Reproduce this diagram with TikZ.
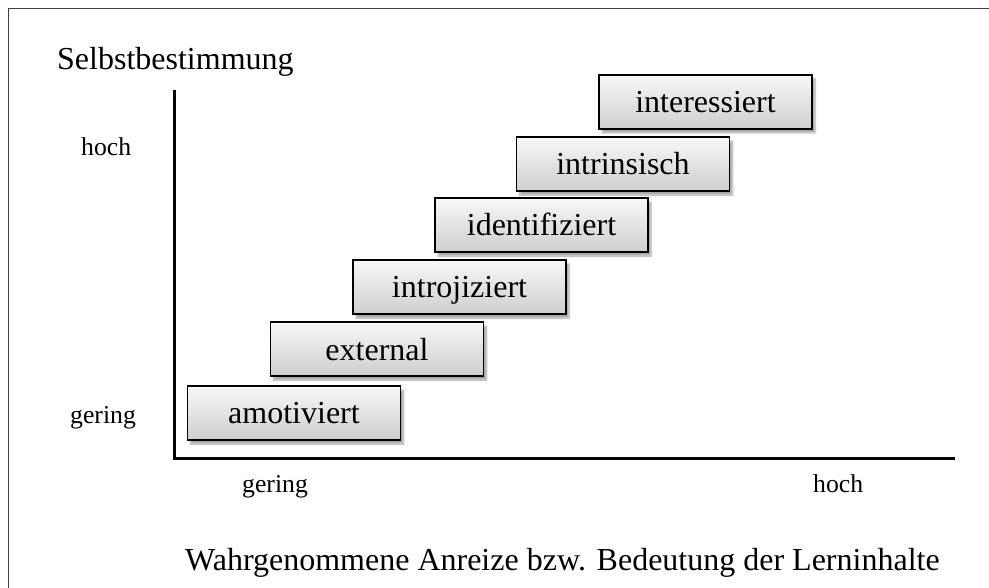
\documentclass[tikz,border=0pt]{standalone}
\usepackage{fontspec}
\setmainfont{Liberation Serif}
\usetikzlibrary{shadows.blur}
\begin{document}
\begin{tikzpicture}[x=1pt,y=-1pt,
  stagebox/.style={draw=black, line width=1.6pt, minimum width=213pt, minimum height=54pt,
    inner sep=0pt, text height=27pt, text depth=5pt, top color=gray!6, bottom color=gray!38,
    blur shadow={shadow xshift=3pt, shadow yshift=-4pt, shadow blur steps=6, shadow opacity=35},
    font=\fontsize{32}{36}\selectfont},
  biglabel/.style={anchor=base west, inner sep=0pt, font=\fontsize{32}{36}\selectfont},
  smalllabel/.style={anchor=base west, inner sep=0pt, font=\fontsize{25.7}{30}\selectfont},
  axisline/.style={line width=3pt, black}]
  \useasboundingbox (0,0) rectangle (989,588);
  % outer frame (left and top edges)
  \draw[line width=1.3pt, black!75] (8.5,590) -- (8.5,8.5) -- (992,8.5);

  % axes
  \coordinate (ytop) at (174,90);
  \coordinate (origin) at (174,458);
  \coordinate (xend) at (955,458);
  \draw[axisline] (ytop) -- ([yshift=1.5pt]origin);
  \draw[axisline] ([xshift=-1.5pt]origin) -- (xend);

  % axis labels
  \node[biglabel] (ylab) at (57,70) {Selbstbestimmung};
  \node[smalllabel] (yhigh) at (81,156) {hoch};
  \node[smalllabel] (ylow) at (70,423) {gering};
  \node[smalllabel] (xlow) at (242,492) {gering};
  \node[smalllabel] (xhigh) at (813,492) {hoch};
  \node[biglabel] (xlab) at (185,570) {Wahrgenommene Anreize bzw. Bedeutung der Lerninhalte};

  % motivation stages
  \node[stagebox] (s1) at (294,413) {amotiviert};
  \node[stagebox] (s2) at (377,349) {external};
  \node[stagebox] (s3) at (459.5,287) {introjiziert};
  \node[stagebox] (s4) at (541.5,225) {identifiziert};
  \node[stagebox] (s5) at (623,164) {intrinsisch};
  \node[stagebox] (s6) at (705.5,102) {interessiert};
\end{tikzpicture}
\end{document}
